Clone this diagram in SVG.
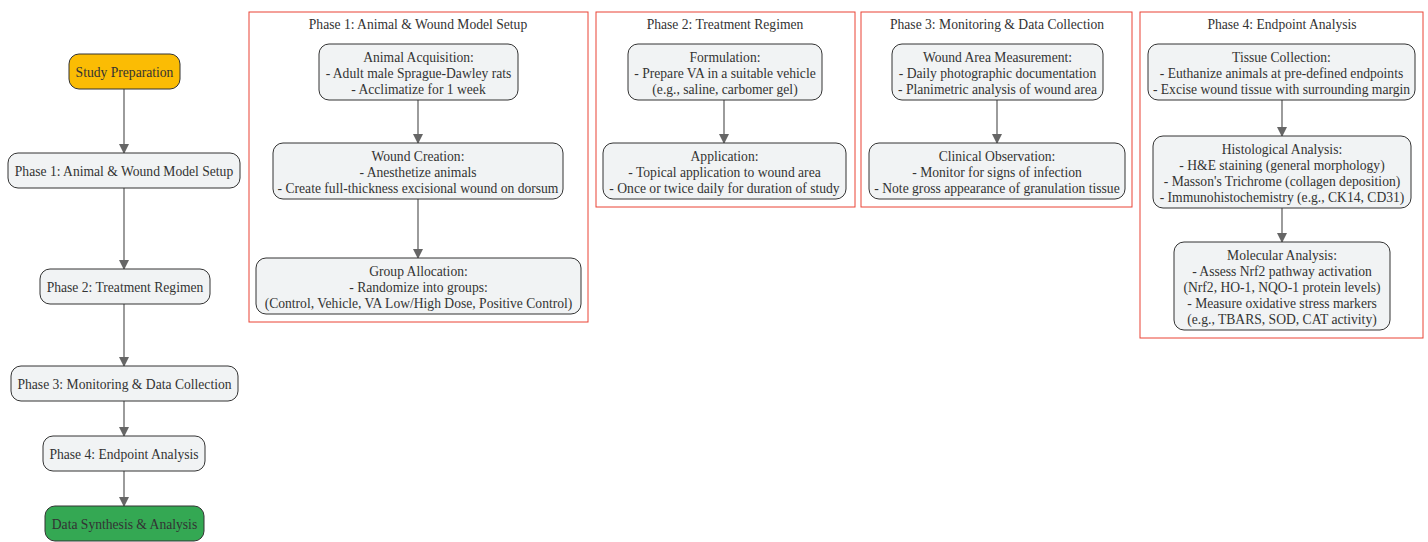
<svg xmlns="http://www.w3.org/2000/svg" width="1428" height="542" viewBox="0 0 1428 542">
<style>
text{font-family:"Liberation Serif","Times New Roman",serif;font-size:13.6px;fill:#333;text-anchor:middle}
.n{fill:#F1F3F4;stroke:#333;stroke-width:1}
.c{fill:#fff;stroke:#EA4335;stroke-width:1}
.e{stroke:#666;stroke-width:1.3;fill:none;marker-end:url(#ah)}
</style>
<defs>
<marker id="ah" viewBox="0 0 10 10" refX="9" refY="5" markerWidth="10" markerHeight="10" markerUnits="userSpaceOnUse" orient="auto">
<path d="M0,0 L10,5 L0,10 z" fill="#666"/>
</marker>
</defs>
<rect width="1428" height="542" fill="#fff"/>
<g id="clusters">
<g id="cluster1"><rect class="c" x="249" y="12" width="339" height="310"/><text x="418" y="29">Phase 1: Animal &amp; Wound Model Setup</text></g>
<g id="cluster2"><rect class="c" x="596" y="12" width="259" height="195"/><text x="725" y="29">Phase 2: Treatment Regimen</text></g>
<g id="cluster3"><rect class="c" x="861" y="12" width="271" height="195"/><text x="997" y="29">Phase 3: Monitoring &amp; Data Collection</text></g>
<g id="cluster4"><rect class="c" x="1140" y="12" width="283" height="326"/><text x="1282" y="29">Phase 4: Endpoint Analysis</text></g>
</g>
<g id="connectors">
<path class="e" d="M124,89 V153"/>
<path class="e" d="M124,188 V269"/>
<path class="e" d="M124,304 V366"/>
<path class="e" d="M124,401 V436"/>
<path class="e" d="M124,471 V506"/>
<path class="e" d="M418,100 V143"/>
<path class="e" d="M418,199 V258"/>
<path class="e" d="M724,100 V143"/>
<path class="e" d="M997,100 V143"/>
<path class="e" d="M1282,100 V136"/>
<path class="e" d="M1282,208 V242"/>
</g>
<g id="study"><rect x="69" y="54" width="111" height="35" rx="10" fill="#FBBC04" stroke="#333"/><text x="124.5" y="76.5">Study Preparation</text></g>
<g id="p1"><rect class="n" x="8" y="153" width="232" height="35" rx="10"/><text x="124" y="175.5">Phase 1: Animal &amp; Wound Model Setup</text></g>
<g id="p2"><rect class="n" x="40" y="269" width="170" height="35" rx="10"/><text x="125" y="291.5">Phase 2: Treatment Regimen</text></g>
<g id="p3"><rect class="n" x="11" y="366" width="227" height="35" rx="10"/><text x="124.5" y="388.5">Phase 3: Monitoring &amp; Data Collection</text></g>
<g id="p4"><rect class="n" x="43" y="436" width="162" height="35" rx="10"/><text x="124" y="458.5">Phase 4: Endpoint Analysis</text></g>
<g id="synth"><rect x="45" y="506" width="159" height="35" rx="10" fill="#34A853" stroke="#333"/><text x="124.5" y="528.5">Data Synthesis &amp; Analysis</text></g>
<g id="acq"><rect class="n" x="319" y="44" width="199" height="56" rx="10"/>
<text x="418.5" y="62">Animal Acquisition:</text><text x="418.5" y="78">- Adult male Sprague-Dawley rats</text><text x="418.5" y="94">- Acclimatize for 1 week</text></g>
<g id="wound"><rect class="n" x="273" y="143" width="290" height="56" rx="10"/>
<text x="418" y="161">Wound Creation:</text><text x="418" y="177">- Anesthetize animals</text><text x="418" y="193">- Create full-thickness excisional wound on dorsum</text></g>
<g id="group"><rect class="n" x="256" y="258" width="325" height="56" rx="10"/>
<text x="418.5" y="276">Group Allocation:</text><text x="418.5" y="292">- Randomize into groups:</text><text x="418.5" y="308">(Control, Vehicle, VA Low/High Dose, Positive Control)</text></g>
<g id="form"><rect class="n" x="628" y="44" width="194" height="56" rx="10"/>
<text x="725" y="62">Formulation:</text><text x="725" y="78">- Prepare VA in a suitable vehicle</text><text x="725" y="94">(e.g., saline, carbomer gel)</text></g>
<g id="appl"><rect class="n" x="603" y="143" width="243" height="56" rx="10"/>
<text x="724.5" y="161">Application:</text><text x="724.5" y="177">- Topical application to wound area</text><text x="724.5" y="193">- Once or twice daily for duration of study</text></g>
<g id="wam"><rect class="n" x="892" y="44" width="211" height="56" rx="10"/>
<text x="997.5" y="62">Wound Area Measurement:</text><text x="997.5" y="78">- Daily photographic documentation</text><text x="997.5" y="94">- Planimetric analysis of wound area</text></g>
<g id="clin"><rect class="n" x="869" y="143" width="256" height="56" rx="10"/>
<text x="997" y="161">Clinical Observation:</text><text x="997" y="177">- Monitor for signs of infection</text><text x="997" y="193">- Note gross appearance of granulation tissue</text></g>
<g id="tissue"><rect class="n" x="1148" y="44" width="267" height="56" rx="10"/>
<text x="1281.5" y="62">Tissue Collection:</text><text x="1281.5" y="78">- Euthanize animals at pre-defined endpoints</text><text x="1281.5" y="94">- Excise wound tissue with surrounding margin</text></g>
<g id="histo"><rect class="n" x="1153" y="136" width="258" height="72" rx="10"/>
<text x="1282" y="154">Histological Analysis:</text><text x="1282" y="170">- H&amp;E staining (general morphology)</text><text x="1282" y="186">- Masson's Trichrome (collagen deposition)</text><text x="1282" y="202">- Immunohistochemistry (e.g., CK14, CD31)</text></g>
<g id="mol"><rect class="n" x="1174" y="242" width="216" height="88" rx="10"/>
<text x="1282" y="260">Molecular Analysis:</text><text x="1282" y="276">- Assess Nrf2 pathway activation</text><text x="1282" y="292">(Nrf2, HO-1, NQO-1 protein levels)</text><text x="1282" y="308">- Measure oxidative stress markers</text><text x="1282" y="324">(e.g., TBARS, SOD, CAT activity)</text></g>
</svg>
